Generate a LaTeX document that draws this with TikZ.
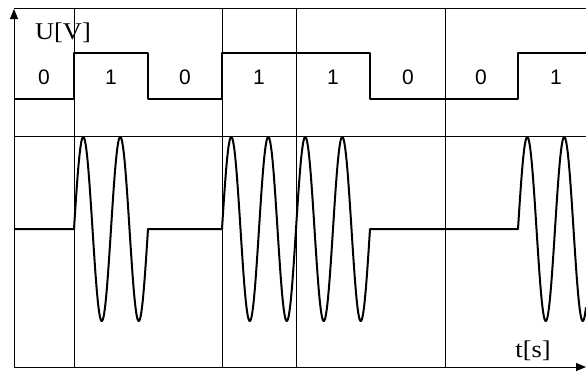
\documentclass[tikz,border=0pt]{standalone}
\usepackage{fontspec}
\setmainfont{Liberation Sans}
\newfontfamily\serifU{Liberation Serif}
\usetikzlibrary{arrows.meta}
\begin{document}
\begin{tikzpicture}[x=1pt,y=-1pt,
  gridline/.style={line width=1pt},
  sig/.style={line width=2pt, line join=round},
  axisarrow/.style={line width=1pt,-{Triangle[length=10pt,width=8pt]}},
  bit/.style={font=\fontsize{21}{21}\selectfont, inner sep=0pt},
  unit/.style={font=\serifU\fontsize{24}{24}\selectfont, inner sep=0pt, xscale=1.1}]
\useasboundingbox (0,0) rectangle (586,372);
% axes
\coordinate (O) at (14,367);
\coordinate (Ytip) at (14,9);
\coordinate (Xtip) at (586,367);
\draw[axisarrow] (O) -- (Ytip);
\draw[axisarrow] (O) -- (Xtip);
% grid
\coordinate (T0) at (14,8);   \coordinate (T1) at (586,8);
\coordinate (H0) at (14,136); \coordinate (H1) at (586,136);
\draw[gridline] (T0) -- (T1);
\draw[gridline] (H0) -- (H1);
\foreach \gx in {74,222,296,445}{
  \draw[gridline] (\gx,8) -- (\gx,367);
}
% digital signal
\draw[sig] (14,99) -- (74,99) -- (74,53) -- (148,53) -- (148,99) -- (222,99)
  -- (222,53) -- (370,53) -- (370,99) -- (518,99) -- (518,53) -- (586,53);
% modulated signal
\draw[sig] (14,229) -- (74,229)
  -- plot[domain=74:148,samples=160,smooth] (\x,{229-92*sin(9.72973*(\x-74))})
  -- (222,229)
  -- plot[domain=222:370,samples=300,smooth] (\x,{229-92*sin(9.72973*(\x-222))})
  -- (518,229)
  -- plot[domain=518:586,samples=140,smooth] (\x,{229-92*sin(9.72973*(\x-518))});
% labels
\node[unit] (uv) at (63,33) {U[V]};
\node[unit] (ts) at (533,351) {t[s]};
\node[bit] (b1) at (44,77) {0};
\node[bit] (b2) at (111,77) {1};
\node[bit] (b3) at (185,77) {0};
\node[bit] (b4) at (259,77) {1};
\node[bit] (b5) at (333,77) {1};
\node[bit] (b6) at (408,77) {0};
\node[bit] (b7) at (481,77) {0};
\node[bit] (b8) at (556,77) {1};
\end{tikzpicture}
\end{document}
